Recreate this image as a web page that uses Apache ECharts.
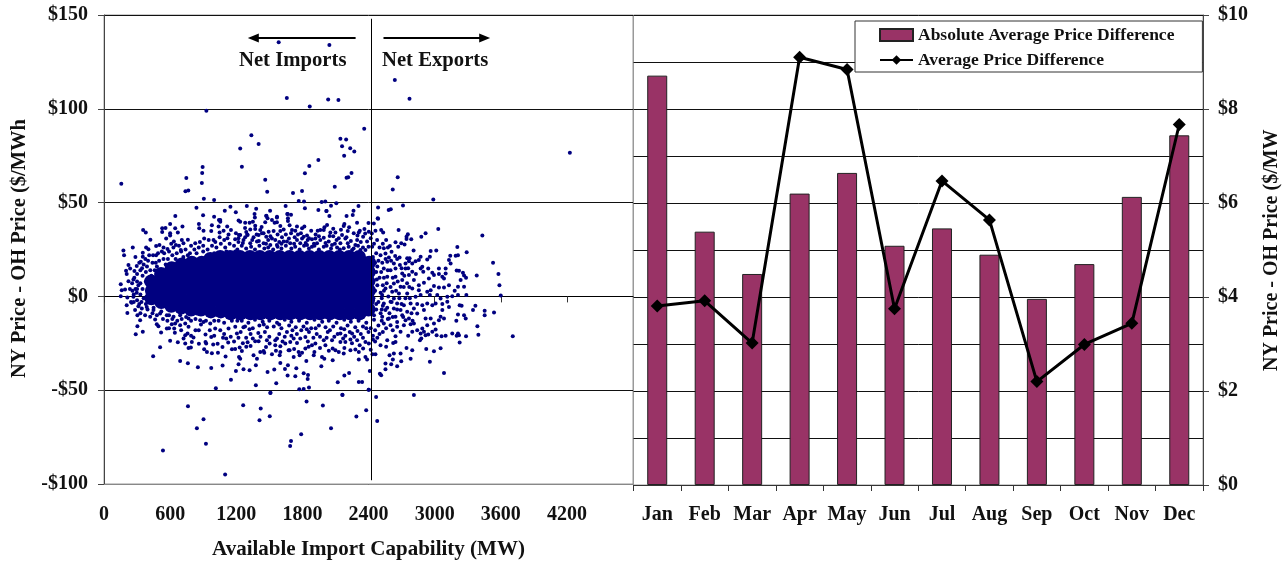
<!DOCTYPE html>
<html><head><meta charset="utf-8">
<style>html,body{margin:0;padding:0;background:#fff}#c{width:1286px;height:562px}</style>
<script src="https://cdn.jsdelivr.net/npm/echarts@6/dist/echarts.min.js"></script>
</head><body><div id="c"></div>
<script>
const months=['Jan','Feb','Mar','Apr','May','Jun','Jul','Aug','Sep','Oct','Nov','Dec'];
const absDiff=[8.71,5.39,4.49,6.2,6.64,5.09,5.46,4.9,3.96,4.7,6.13,7.44];
const avgDiff=[3.81,3.92,3.02,9.1,8.84,3.75,6.47,5.64,2.2,2.99,3.44,7.67];
// Left panel: individually read hourly points [MW, $/MWh]
const upperTail=[[157,60],[1585,135.5],[2045,134],[2639,115.4],[2772,105.3],[1659,105.8],[2034,104.9],[2127,104.7],[1867,101.2],[929,98.9],[2361,89.3],[1337,85.9],[1403,81.2],[1236,78.8],[2145,84.1],[2197,83.6],[2160,80],[2234,79],[2271,77.2],[2179,75],[4227,76.6],[1945,72.7],[1863,69.5],[895,69],[1251,69.1],[891,65.8],[1823,65.6],[2246,65.8],[2216,63.5],[2201,63.3],[2665,63.5],[747,63.1],[1463,62.2],[888,60.4],[2094,58.5],[2620,57],[765,56.5],[739,56],[1481,55.8],[1797,56.2],[1715,55.1],[906,52.1],[999,51.4],[2988,51.7],[1767,50.8],[1815,50.6],[1975,50.3],[2008,50.6],[2108,49.6],[1648,48.2],[1823,47],[1296,48.2],[1147,47.8],[839,47.3],[1381,46.7],[2309,48.2],[2060,48.3],[2487,47.4],[2583,46],[2602,46.4],[2713,48.5],[1096,45.7],[1196,44.8],[1507,45.7],[1945,46],[2019,45.5],[647,42.8],[899,43.2],[999,42.5],[1667,43.9],[1697,43.5],[2045,42.8],[2201,42.8],[2264,45.7],[2257,43.4],[2487,41.4],[1366,43.9],[1369,42.1],[1474,42.8],[1570,42.5],[1055,40.7]];
const upperLeft=[[1043,40.7],[1055,39.8],[1221,40.4],[600,38.6],[861,38.6],[979,37.9],[1040,37.2],[1118,37.2],[558,36.4],[528,36.3],[646,36.3],[712,37.3],[355,35.4],[379,34],[864,36.3],[903,35],[973,34.8],[1049,34.1],[1085,35],[1152,35.4],[670,34.1],[600,33.6],[528,34.3],[600,32.4],[1049,31.5],[1197,33.6],[1224,32.7],[421,30.2],[564,30.9],[706,30],[761,30.2],[909,30.9],[994,30],[1091,30],[634,29.2],[828,28.3],[503,27.4],[473,26.8],[652,27.4],[721,28.3],[261,26],[382,26],[403,25.1],[176,24.5],[182,21.9],[352,23.3],[473,22],[576,25.2],[697,24.7],[285,21],[546,23],[352,21.1],[222,16.7],[237,14.9],[297,16.2],[200,13.7],[276,13.5],[206,11.9],[334,18.5],[152,6.5],[222,8.1],[267,9],[191,3.7],[161,3.3],[152,0.1],[258,3],[212,-0.6],[297,1.9],[267,-0.2],[312,6],[330,14],[360,17],[400,19],[440,18],[470,18],[350,11],[380,13],[420,14],[460,14],[330,7],[350,4],[380,8],[420,9],[300,8],[285,4],[330,1],[300,-2],[340,-3],[380,-4],[420,-3],[270,-3],[320,-4],[500,19],[540,20],[580,20],[620,22],[660,23],[700,24],[740,25],[780,23],[820,25],[860,26],[900,27],[940,25],[980,27],[1020,26],[1060,28],[1100,26],[1140,28],[1180,27],[1220,29],[650,20],[720,21],[560,17]];
const upperMid=[[1663,43.9],[1472,43],[1484,41.6],[1569,42.1],[2018,45.5],[1524,40.7],[1548,39.3],[1463,39.5],[1669,41.6],[1669,40.2],[1569,39.5],[1236,39.8],[1281,39.3],[1321,39.3],[1351,39.8],[1372,37.7],[1372,35.9],[1684,37.9],[1751,37.2],[1818,37.2],[1797,36.3],[1630,35.7],[1600,34.8],[1706,35.4],[1736,35],[1697,33.6],[1539,34.8],[1494,34.5],[1418,35.4],[1433,33.6],[1327,35.7],[1291,34.3],[1303,32.7],[2024,38],[2000,36.8],[1994,35.4],[1963,35.4],[1939,35],[2181,38.6],[2175,37.5],[2212,34.8],[2224,36.8],[2296,39.3],[2400,39.1],[2448,38.9],[2484,41.6],[2321,35],[2312,34],[2363,35.9],[2403,34.5],[2463,35],[2100,34.1],[2054,34],[2048,32.2],[1787,33.6],[1812,31.8],[1842,32.4],[1887,30.4],[1848,30],[1236,32.7],[1281,31.5],[1266,30],[1357,31.5],[1403,32.7],[1448,33.6],[1472,31.8],[1524,30.9],[1554,30],[1615,31.5],[1630,29.2],[1678,30.9],[1690,28.3],[1751,30],[1797,30.9],[1781,28.3],[1918,30.9],[1963,30],[1933,28.3],[1994,31.3],[2039,29.2],[2069,27.4],[2160,32.7],[2190,30.9],[2212,28.3],[2266,33.6],[2297,30],[2281,27.4],[2351,31.8],[2387,29.2],[2433,26.5],[2478,30],[2145,28.3],[2115,26],[2175,25.6],[2251,24.7],[2327,24.7],[2372,24.7],[1388,29.2],[1327,28.3],[1448,28.3],[1509,27.4],[1569,27.4],[1660,29.2],[1842,27.4],[1887,26.5],[1994,26.5]];
const upperRight=[[3033,35.9],[3433,32.4],[2673,35.4],[2515,35.4],[2533,34.1],[2918,33.6],[2879,31.8],[2757,33.1],[2745,31.8],[2745,30.6],[2788,30.4],[2645,28.8],[2697,28.3],[2727,27.7],[2670,26.5],[2594,26.8],[2576,26],[2539,25.6],[2609,23.8],[2554,22.9],[2509,22],[3206,26.3],[3291,23.6],[2809,24.5],[2964,24.2],[3015,24.5],[2642,21.5],[2682,20.8],[2585,20.8],[2873,21.1],[2957,21.1],[3142,21.7],[3212,22],[3191,21.7],[2751,20.3],[2773,20.3],[2767,18.8],[2736,17.6],[2933,19.7],[2857,19.4],[2827,18.8],[2797,17.6],[3130,19.4],[3145,17.6],[3530,18],[2888,15.8],[2873,14.9],[2897,13.1],[2685,16.7],[2630,17.6],[2570,18.5],[2645,14.9],[2736,14.9],[2706,12.2],[2797,13.1],[3039,14.9],[3100,14.9],[3200,13.8],[3221,13.7],[3257,12.6],[3267,11.2],[2942,14.9],[2979,12.6],[2994,11.4],[3039,11.9],[3100,12.2],[3085,9.6],[3070,10.5],[2948,9.6],[2903,7.3],[3382,11.2],[3579,11.9],[3285,9.9],[3236,8.7],[3588,6],[3600,0.5],[3130,6],[3085,4.8],[3039,4.8],[2994,5.5],[3212,5.1],[3182,3],[3267,5.1],[3288,0.7],[3212,0.7],[2964,3.3],[2933,2.5],[2957,0.7],[3024,0.7],[3054,-1.1],[3115,-0.2],[3160,0.1],[2857,6],[2812,8.7],[2767,11.4],[2797,4.2],[2857,3.3],[2873,0.7],[2827,-0.2],[2751,1.6],[2691,5.1],[2630,6.9],[2570,10.5],[2706,8.7],[2645,10.5],[2600,14],[2539,14.9],[2676,1.6],[2615,2.5],[2554,4.2],[2524,0.7],[2630,-1.1]];
const lowerRight=[[3227,-4.7],[3245,-5],[3370,-5],[3348,-7.3],[3454,-7.7],[3454,-10],[3539,-8.6],[3212,-9.7],[3267,-10],[3282,-11.8],[3197,-13],[3388,-15.9],[3397,-20.5],[3709,-21.2],[3160,-19.8],[3212,-19.8],[3221,-20.7],[3200,-21],[3285,-21.2],[3227,-24.6],[3018,-20.7],[3063,-21.2],[3100,-21],[2942,-20.3],[2979,-18.9],[3009,-17.7],[3070,-7.3],[3054,-10.9],[3085,-11.8],[3039,-12.7],[3130,-5.6],[3115,-2.9],[3070,-4.1],[3009,-3.8],[2994,-14.5],[2918,-11.8],[2933,-15.4],[2964,-11.8],[2888,-4.7],[2933,-3.8],[2979,-4.7],[2903,-7.3],[2842,-9.1],[2812,-14.5],[2842,-18],[2888,-17.1],[2873,-19.8],[2903,-18.9],[2918,-20.7],[2760,-21],[2691,-18.9],[2645,-21.2],[2721,-15.4],[2660,-16.2],[2797,-18.9],[2879,-22.5],[2867,-23.4],[2645,-24.3],[2624,-24.8],[2570,-23.4],[2560,-26.9],[2509,-26],[2745,-27.5],[2797,-28.7],[2924,-28],[2994,-29.2],[3054,-27.6],[2630,-30.5],[2591,-31.4],[2691,-30.5],[2621,-33.7],[2782,-33.3],[2697,-34.6],[2957,-34.8],[2554,-35.8],[2606,-36.2],[2660,-37.2],[2554,-38.8],[3085,-40.8],[2515,-42],[2812,-52.6],[2539,-3.8],[2600,-2.9],[2660,-3.8],[2721,-4.7],[2782,-3.8],[2842,-4.1],[2554,-7.3],[2630,-6.5],[2691,-7.3],[2751,-8.2],[2812,-6.5],[2524,-10.9],[2585,-11.8],[2645,-10.9],[2706,-10],[2767,-11.8],[2539,-14.5],[2600,-15.4],[2736,-12.7],[2782,-14.8],[2660,-13.6]];
const lowerLeft=[[206,-4.7],[212,-8.8],[282,-7.3],[303,-10],[328,-12.7],[303,-15.9],[288,-20.2],[352,-18.9],[252,-3.4],[312,-5.2],[343,-6.5],[373,-10],[419,-10.9],[464,-12.3],[479,-14.8],[494,-15.9],[518,-19.3],[570,-17.1],[615,-14.8],[646,-14.5],[637,-17.1],[643,-19.4],[600,-23.7],[670,-24.4],[509,-27.1],[446,-31.9],[722,-22.5],[737,-20.7],[758,-19.8],[812,-21.9],[737,-25.1],[797,-24.3],[861,-25.3],[767,-27.5],[788,-27.3],[921,-20.3],[973,-21.6],[921,-24.3],[927,-25.1],[991,-25.7],[1031,-25.3],[909,-28.2],[934,-29.6],[979,-30.3],[1034,-30.1],[1103,-32.1],[1161,-28.2],[1109,-22.5],[1127,-24.6],[691,-34.4],[761,-35.6],[852,-37.8],[973,-38.1],[1076,-36.9],[1152,-44.4],[1197,-39.7],[1221,-36.2],[1225,-32.3],[1231,-27.3],[1015,-49],[691,-15.4],[737,-14.5],[767,-16.2],[843,-9.1],[903,-13.6],[964,-14.5],[1009,-17.1],[1055,-18],[1130,-17.1],[1191,-16.2],[1206,-19.8],[388,-5.6],[449,-7.3],[509,-9.1],[570,-10],[631,-10.9],[691,-10],[767,-11.8],[873,-12.7],[450,-6],[520,-8],[590,-10]];
const lowerMid=[[1266,-38.8],[1321,-39.4],[1378,-47.4],[1484,-40.3],[1545,-39],[1642,-38.7],[1669,-36.7],[1745,-38.3],[1666,-42.2],[1736,-42.6],[1812,-41],[1851,-41.9],[1848,-44],[1563,-46.3],[1509,-51.5],[1860,-48.5],[1772,-49.5],[1812,-49.3],[1972,-37.2],[2075,-34],[2121,-45.8],[2181,-42.2],[2224,-40.8],[2312,-45.6],[2342,-45.6],[2412,-39.7],[2403,-49.7],[2163,-52.4],[2469,-53.6],[2436,-30.8],[2463,-30.8],[2503,-41.2],[1372,-23.9],[1403,-23.9],[1303,-24.4],[1291,-26.9],[1251,-29.1],[1236,-33.2],[1418,-29.6],[1448,-29.1],[1454,-30.1],[1524,-30.8],[1600,-29.6],[1594,-31.4],[1600,-35.5],[1388,-33.2],[1357,-31.4],[1378,-36.7],[1675,-28.7],[1684,-28.7],[1554,-23.4],[1600,-26.6],[1645,-25.1],[1690,-24.3],[1751,-24.8],[1721,-32.3],[1775,-31.4],[1766,-29.6],[1797,-30.1],[1836,-34.4],[1827,-27.8],[1857,-26.9],[1887,-26],[1918,-25.1],[1903,-31.4],[1909,-29.6],[1978,-32.3],[1999,-33.2],[2075,-27.8],[1994,-23.4],[2009,-26],[2100,-28.7],[2130,-29.6],[2175,-30.5],[2181,-27.5],[2236,-28.7],[2281,-28.3],[2312,-29.6],[2312,-33.7],[2351,-27.8],[2372,-32.3],[2387,-33.7],[2145,-24.3],[2190,-24.3],[2236,-23],[2297,-23.4],[2372,-24.3],[2403,-25.1],[2251,-19.8],[1478,-23.4],[1503,-25.1],[1554,-26],[1721,-22.5],[1781,-22.5],[1827,-21.6],[2069,-23.4],[2145,-19.8],[1250,-13],[1310,-14],[1370,-12.5],[1440,-13.5],[1500,-13],[1570,-14],[1640,-12.5],[1700,-13.5],[1770,-13],[1840,-14],[1910,-12.5],[1980,-13.5],[2040,-13],[2110,-14],[2180,-12.5],[2240,-13.5],[2310,-13],[2380,-14],[2450,-12.5],[1280,-16],[1350,-17],[1410,-15.5],[1480,-16.5],[1540,-16],[1610,-17],[1680,-15.5],[1740,-16.5],[1810,-16],[1880,-17],[1950,-15.5],[2010,-16.5],[2080,-16],[2150,-17],[2210,-15.5],[2280,-16.5],[2350,-16],[2420,-17],[2490,-15.5],[1240,-19],[1330,-20],[1400,-19.5],[1460,-19],[1590,-20],[1660,-19],[1750,-20],[1860,-19],[1930,-20],[2030,-19],[2120,-20],[2230,-19],[2330,-20],[2400,-19],[2500,-20],[2470,-7],[2490,-3],[2510,2],[2480,6],[2500,10],[2470,13],[2520,-7],[2460,18],[2490,19],[2440,21]];
const lowerTail=[[762,-58.5],[1263,-58],[1422,-59.8],[903,-65.5],[843,-70.3],[1411,-66],[1504,-63.9],[925,-78.5],[535,-82.2],[1697,-77.1],[1689,-79.7],[1789,-73.5],[2060,-70.3],[1099,-95],[1986,-58.2],[1838,-56],[2164,-52.5],[1511,-51.4],[2290,-64],[2379,-60.7],[2479,-66.4],[2401,-49.7]];
// Crowded fringe round the solid centre, read as closely as the overlapping marks allow
const fringeTop=[[1210,25],[1250,27],[1290,25.5],[1335,26.5],[1370,25],[1410,27],[1455,25.5],[1490,26],[1535,25],[1575,26.5],[1610,25.5],[1650,27],[1700,25.5],[1735,26.5],[1775,25],[1815,27],[1860,25.5],[1910,27],[1950,25],[2020,27],[2060,25.5],[2095,28],[2140,25],[2220,26.5],[2265,25.5],[2305,27],[2350,26],[2400,26.5],[1220,31],[1345,30],[1405,29.5],[1490,30],[1590,29],[1725,28],[1830,28.5],[1905,28],[2010,28.5],[2110,30],[2240,29.5],[2330,29],[2420,31],[1260,28.5],[1470,28],[1610,28],[1730,31.5],[1950,32],[2130,31],[1190,30.5],[1300,33],[1385,33],[1510,32],[1575,33],[1650,33],[1760,33],[1860,31],[1920,33],[2080,32],[2200,31.5],[2300,32.5],[2370,33.5],[1120,31],[1010,29],[950,30],[870,29],[790,27],[610,28],[540,26],[1280,36.5],[1430,37],[1600,37.5],[1880,35],[2080,36],[2150,35.5],[2430,33.5],[1130,33]];
const fringeLow=[[1220,-22],[1290,-22],[1350,-22.5],[1420,-21.5],[1500,-21.5],[1570,-22.5],[1640,-21.5],[1700,-21],[1790,-18],[1900,-22],[1960,-21.5],[2020,-22],[2090,-21.5],[2190,-21],[2270,-21.5],[2350,-22],[2440,-21],[1265,-16.5],[1320,-17.5],[1450,-15],[1590,-15],[1710,-18],[1840,-17.5],[1920,-17],[2050,-18],[2180,-17.5],[2300,-18.5],[2380,-17],[2460,-24],[1180,-24],[1080,-22],[1000,-21],[1075,-27],[1190,-28],[1330,-26.5],[1470,-27],[1560,-29],[1850,-24],[1960,-27.5],[2040,-29],[2170,-22.5],[2250,-25],[2320,-26],[2420,-28.5],[860,-18],[790,-21],[1150,-21.5],[1260,-25],[1620,-24],[1725,-28]];
const fringeLeft=[[300,12],[320,18],[345,15],[375,20],[410,22],[445,22],[490,23],[525,24],[590,24],[630,26],[680,27],[255,7],[275,10],[300,4],[235,4],[245,-3],[270,1],[330,-9],[360,-1],[395,-7],[440,-9],[480,-10],[535,-12],[575,-13],[620,-12],[665,-13],[705,-12],[745,-11],[790,-13],[830,-12],[880,-15],[925,-13],[1000,-13],[1040,-13],[1090,-14],[1160,-13],[1210,-13],[390,16],[430,11],[480,16],[395,3],[840,23],[760,22],[900,24],[1000,23],[1110,24],[1190,24],[590,-17],[700,-18],[830,-18],[960,-18],[1090,-20]];
const fringeRight=[[2450,-10],[2470,-4],[2445,-1],[2460,3],[2445,8],[2475,9],[2450,13],[2480,16],[2510,-9],[2530,-5],[2520,-1],[2540,3],[2530,6],[2515,13],[2540,10],[2525,18],[2555,20],[2575,14],[2565,7],[2580,0],[2570,-6],[2590,-9],[2620,-11],[2610,-3],[2600,5],[2620,10],[2605,19],[2650,3],[2660,-7],[2665,8],[2660,20],[2680,-1],[2700,-4],[2720,5],[2715,-11],[2735,-1],[2725,11],[2700,15],[2750,7],[2775,-1],[2790,-9],[2770,5],[2760,15],[2830,12],[2800,-13],[2460,-18],[2480,-22],[2520,-13],[2530,-19],[2560,-17],[2575,-12],[2620,-18],[2440,-23],[2470,23],[2500,26],[2530,28],[2450,28],[2560,30]];
// Solid centre of the cloud: too dense to separate single points, so read as a blob of coarse markers
const denseCore=[[430,-1],[435,3],[428,8],[520,-3],[515,2],[525,7],[518,12],[610,-5],[606,0],[612,5],[608,10],[614,15],[700,-6],[696,-1],[704,4],[698,9],[702,14],[706,17],[790,-7],[786,-2],[794,3],[788,8],[792,13],[796,18],[880,-7],[876,-2],[884,3],[878,8],[882,13],[886,18],[970,-8],[966,-3],[974,2],[968,7],[972,12],[976,17],[964,20],[1060,-8],[1056,-3],[1064,2],[1058,7],[1062,12],[1066,17],[1054,21],[1150,-9],[1146,-4],[1154,1],[1148,6],[1152,11],[1156,16],[1144,21],[1240,-9],[1236,-4],[1244,1],[1238,6],[1242,11],[1246,16],[1234,21],[1330,-9],[1326,-4],[1334,1],[1328,6],[1332,11],[1336,16],[1324,21],[1420,-9],[1416,-4],[1424,1],[1418,6],[1422,11],[1426,16],[1414,21],[1510,-9],[1506,-4],[1514,1],[1508,6],[1512,11],[1516,16],[1504,21],[1600,-9],[1596,-4],[1604,1],[1598,6],[1602,11],[1606,16],[1594,21],[1690,-9],[1686,-4],[1694,1],[1688,6],[1692,11],[1696,16],[1684,21],[1780,-9],[1776,-4],[1784,1],[1778,6],[1782,11],[1786,16],[1774,21],[1870,-9],[1866,-4],[1874,1],[1868,6],[1872,11],[1876,16],[1864,21],[1960,-9],[1956,-4],[1964,1],[1958,6],[1962,11],[1966,16],[1954,21],[2050,-9],[2046,-4],[2054,1],[2048,6],[2052,11],[2056,16],[2044,21],[2140,-9],[2136,-4],[2144,1],[2138,6],[2142,11],[2146,16],[2134,21],[2230,-9],[2226,-4],[2234,1],[2228,6],[2232,11],[2236,16],[2224,21],[2320,-9],[2316,-4],[2324,1],[2318,6],[2322,11],[2326,16],[2314,21],[2400,-7],[2396,-2],[2404,3],[2398,8],[2402,13],[2406,18]];
const zeroLineTicks=[0,600,1200,1800,2400,3000,3600,4200];
const navy='#000080', SERIF='"Liberation Serif","Times New Roman",serif', INK='#111';
const dots=[].concat(upperTail,upperLeft,upperMid,upperRight,lowerRight,lowerLeft,lowerMid,lowerTail,fringeTop,fringeLow,fringeLeft,fringeRight);
const dividerMW=2427, arrowPrice=137.8;
const imp=[2283,1355], exp_=[2536,3454];
const chart=echarts.init(document.getElementById('c'));
const labelFont={fontFamily:SERIF,fontWeight:'bold',color:INK};
const nudged={padding:[9,0,0,0]};
chart.setOption({
 animation:false,
 grid:[{left:104,top:15,width:529,height:469,outerBoundsMode:'none',show:true,borderColor:'#999',borderWidth:1,backgroundColor:'#fff'},
       {left:633.5,top:15,width:569.5,height:470,outerBoundsMode:'none',show:true,borderColor:'#999',borderWidth:1,backgroundColor:'#fff'}],
 legend:{show:true,orient:'vertical',left:855,top:21,padding:[5,28,3,24],itemGap:7,itemWidth:33,itemHeight:12,
   backgroundColor:'#fff',borderColor:'#333',borderWidth:1,z:10,
   textStyle:Object.assign({},labelFont,{fontSize:17.5}),
   data:[{name:'Absolute Average Price Difference',icon:'rect'},{name:'Average Price Difference'}]},
 xAxis:[
  {type:'value',gridIndex:0,position:'bottom',min:0,max:4800,interval:600,axisLine:{onZero:false,lineStyle:{color:'#888',width:1}},
   axisTick:{show:false},splitLine:{show:false},
   axisLabel:Object.assign({},labelFont,{fontSize:20,margin:21,formatter:v=>v===4800?'':String(v)}),
   name:'Available Import Capability (MW)',nameLocation:'middle',nameGap:55,
   nameTextStyle:Object.assign({},labelFont,{fontSize:21})},
  {type:'value',gridIndex:0,position:'bottom',min:0,max:4800,interval:600,axisLine:{onZero:true,lineStyle:{color:'#000'}},
   axisTick:{show:true,length:6,customValues:zeroLineTicks,lineStyle:{color:'#333'}},axisLabel:{show:false},splitLine:{show:false}},
  {type:'category',gridIndex:1,data:months,axisLine:{lineStyle:{color:'#333'}},
   axisTick:{show:true,length:6,lineStyle:{color:'#333'}},
   axisLabel:Object.assign({},labelFont,{fontSize:20,margin:20,interval:0})}
 ],
 yAxis:[
  {type:'value',gridIndex:0,min:-100,max:150,interval:50,axisLine:{show:true,onZero:false,lineStyle:{color:'#444'}},
   axisTick:{show:true,length:6,lineStyle:{color:'#444'}},splitLine:{show:true,lineStyle:{color:'#111'}},
   axisLabel:Object.assign({},labelFont,nudged,{fontSize:20,margin:16,formatter:v=>(v<0?'-$':'$')+Math.abs(v)})},
  {type:'value',gridIndex:1,position:'right',min:0,max:10,interval:2,axisLine:{show:true,lineStyle:{color:'#444',width:1}},
   axisTick:{show:true,length:6,lineStyle:{color:'#444'}},splitLine:{show:true,lineStyle:{color:'#111'}},
   minorTick:{show:false,splitNumber:2},minorSplitLine:{show:true,lineStyle:{color:'#111'}},
   axisLabel:Object.assign({},labelFont,nudged,{fontSize:20,margin:15,formatter:v=>'$'+v})}
 ],
 series:[
  {type:'scatter',xAxisIndex:0,yAxisIndex:0,z:1,silent:true,data:[],
   markLine:{silent:true,animation:false,symbol:'none',label:{show:false},data:[
     [{coord:[dividerMW,148],lineStyle:{color:'#000',width:1,type:'solid'}},{coord:[dividerMW,-98]}]]}},
  {type:'scatter',xAxisIndex:0,yAxisIndex:0,z:2,silent:true,symbolSize:14,itemStyle:{color:navy,opacity:1},data:denseCore},
  {type:'scatter',xAxisIndex:0,yAxisIndex:0,z:3,silent:true,symbolSize:4,itemStyle:{color:navy,opacity:1},data:dots},
  {type:'scatter',xAxisIndex:0,yAxisIndex:0,z:4,silent:true,data:[],
   markLine:{silent:true,animation:false,symbol:['none','triangle'],symbolSize:[9,11],label:{show:false},data:[
     [{coord:[imp[0],arrowPrice],lineStyle:{color:'#000',width:2,type:'solid'}},{coord:[imp[1],arrowPrice]}],
     [{coord:[exp_[0],arrowPrice],lineStyle:{color:'#000',width:2,type:'solid'}},{coord:[exp_[1],arrowPrice]}]]}},
  {name:'Absolute Average Price Difference',type:'bar',xAxisIndex:2,yAxisIndex:1,barWidth:20,z:3,
   itemStyle:{color:'#993366',borderColor:'#222',borderWidth:1},data:absDiff},
  {name:'Average Price Difference',type:'line',xAxisIndex:2,yAxisIndex:1,z:4,symbol:'diamond',symbolSize:13,
   itemStyle:{color:'#000'},lineStyle:{color:'#000',width:3},data:avgDiff}
 ],
 graphic:[
  {type:'text',left:239,top:50,z:20,style:{text:'Net Imports',font:'bold 20.7px '+SERIF,fill:INK}},
  {type:'text',left:382,top:50,z:20,style:{text:'Net Exports',font:'bold 20.7px '+SERIF,fill:INK}},
  {type:'text',x:9,y:378,rotation:Math.PI/2,z:20,style:{text:'NY Price - OH Price ($/MWh',font:'bold 20.5px '+SERIF,fill:INK}},
  {type:'text',x:1262,y:371,rotation:Math.PI/2,z:20,style:{text:'NY Price - OH Price ($/MW',font:'bold 20px '+SERIF,fill:INK}},
  {type:'rect',shape:{x:4,y:96,width:30,height:22},z:21,style:{fill:'#fff'}},
  {type:'rect',shape:{x:1258,y:100,width:28,height:27},z:21,style:{fill:'#fff'}}
 ]
});
</script></body></html>
